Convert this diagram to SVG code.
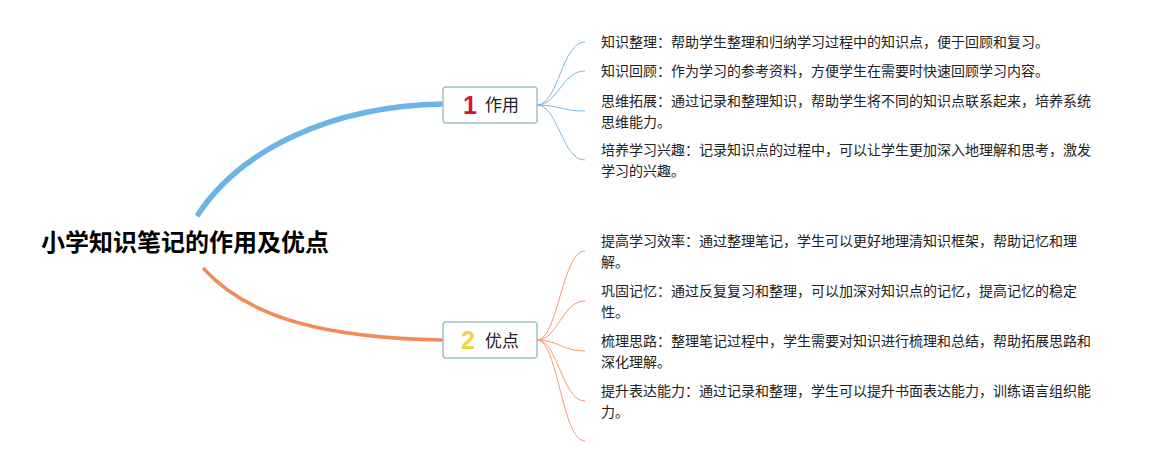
<svg xmlns="http://www.w3.org/2000/svg" width="1161" height="465" viewBox="0 0 1161 465">
<style>
.leaf{font-family:"Noto Sans CJK SC","Noto Sans",sans-serif;font-size:14px;fill:#222}
.title{font-family:"Noto Sans CJK SC","Noto Sans",sans-serif;font-size:24px;font-weight:bold;fill:#000}
.lbl{font-family:"Noto Sans CJK SC","Noto Sans",sans-serif;font-size:17px;fill:#222}
.num{font-family:"Liberation Sans",Arial,sans-serif;font-size:25px;font-weight:bold}
.box{fill:#fff;stroke:#a3c2bc;stroke-width:1.5}
.blue{fill:none;stroke:#7ab8e4;stroke-width:1}
.orange{fill:none;stroke:#f29a72;stroke-width:1}
</style>
<rect width="1161" height="465" fill="#fff"/>
<g id="connectors">
<path d="M197,216 C240,150 330,106 443,104" fill="none" stroke="#6ab4e6" stroke-width="5.5"/>
<path d="M203,268 C250,320 330,338 443,340" fill="none" stroke="#f28a5a" stroke-width="3.5"/>
<path class="blue" d="M537,105 C558,105 562,42 585,42"/>
<path class="blue" d="M537,105 C558,105 562,71 585,71"/>
<path class="blue" d="M537,105 C558,105 562,111 585,111"/>
<path class="blue" d="M537,105 C558,105 562,160 585,160"/>
<path class="orange" d="M537,340 C558,340 562,251 585,251"/>
<path class="orange" d="M537,340 C558,340 562,301 585,301"/>
<path class="orange" d="M537,340 C558,340 562,351 585,351"/>
<path class="orange" d="M537,340 C558,340 562,401 585,401"/>
<path class="orange" d="M537,340 C558,340 562,441 585,441"/>
</g>
<g id="root">
<text class="title" x="41" y="251">小学知识笔记的作用及优点</text>
</g>
<g id="node-zuoyong">
<rect class="box" x="443" y="87" width="94" height="36" rx="3"/>
<text class="num" x="463" y="114" fill="#d3172e">1</text>
<text class="lbl" x="485" y="111">作用</text>
</g>
<g id="node-youdian">
<rect class="box" x="443" y="322" width="94" height="36" rx="3"/>
<text class="num" x="461" y="349" fill="#f1d244">2</text>
<text class="lbl" x="485" y="347">优点</text>
</g>
<g id="leaf-1"><text class="leaf" x="601" y="47">知识整理：帮助学生整理和归纳学习过程中的知识点，便于回顾和复习。</text></g>
<g id="leaf-2"><text class="leaf" x="601" y="76">知识回顾：作为学习的参考资料，方便学生在需要时快速回顾学习内容。</text></g>
<g id="leaf-3"><text class="leaf" x="601" y="106">思维拓展：通过记录和整理知识，帮助学生将不同的知识点联系起来，培养系统</text><text class="leaf" x="601" y="127">思维能力。</text></g>
<g id="leaf-4"><text class="leaf" x="601" y="155">培养学习兴趣：记录知识点的过程中，可以让学生更加深入地理解和思考，激发</text><text class="leaf" x="601" y="176">学习的兴趣。</text></g>
<g id="leaf-5"><text class="leaf" x="601" y="246">提高学习效率：通过整理笔记，学生可以更好地理清知识框架，帮助记忆和理</text><text class="leaf" x="601" y="267">解。</text></g>
<g id="leaf-6"><text class="leaf" x="601" y="296">巩固记忆：通过反复复习和整理，可以加深对知识点的记忆，提高记忆的稳定</text><text class="leaf" x="601" y="317">性。</text></g>
<g id="leaf-7"><text class="leaf" x="601" y="346">梳理思路：整理笔记过程中，学生需要对知识进行梳理和总结，帮助拓展思路和</text><text class="leaf" x="601" y="367">深化理解。</text></g>
<g id="leaf-8"><text class="leaf" x="601" y="396">提升表达能力：通过记录和整理，学生可以提升书面表达能力，训练语言组织能</text><text class="leaf" x="601" y="417">力。</text></g>
</svg>
